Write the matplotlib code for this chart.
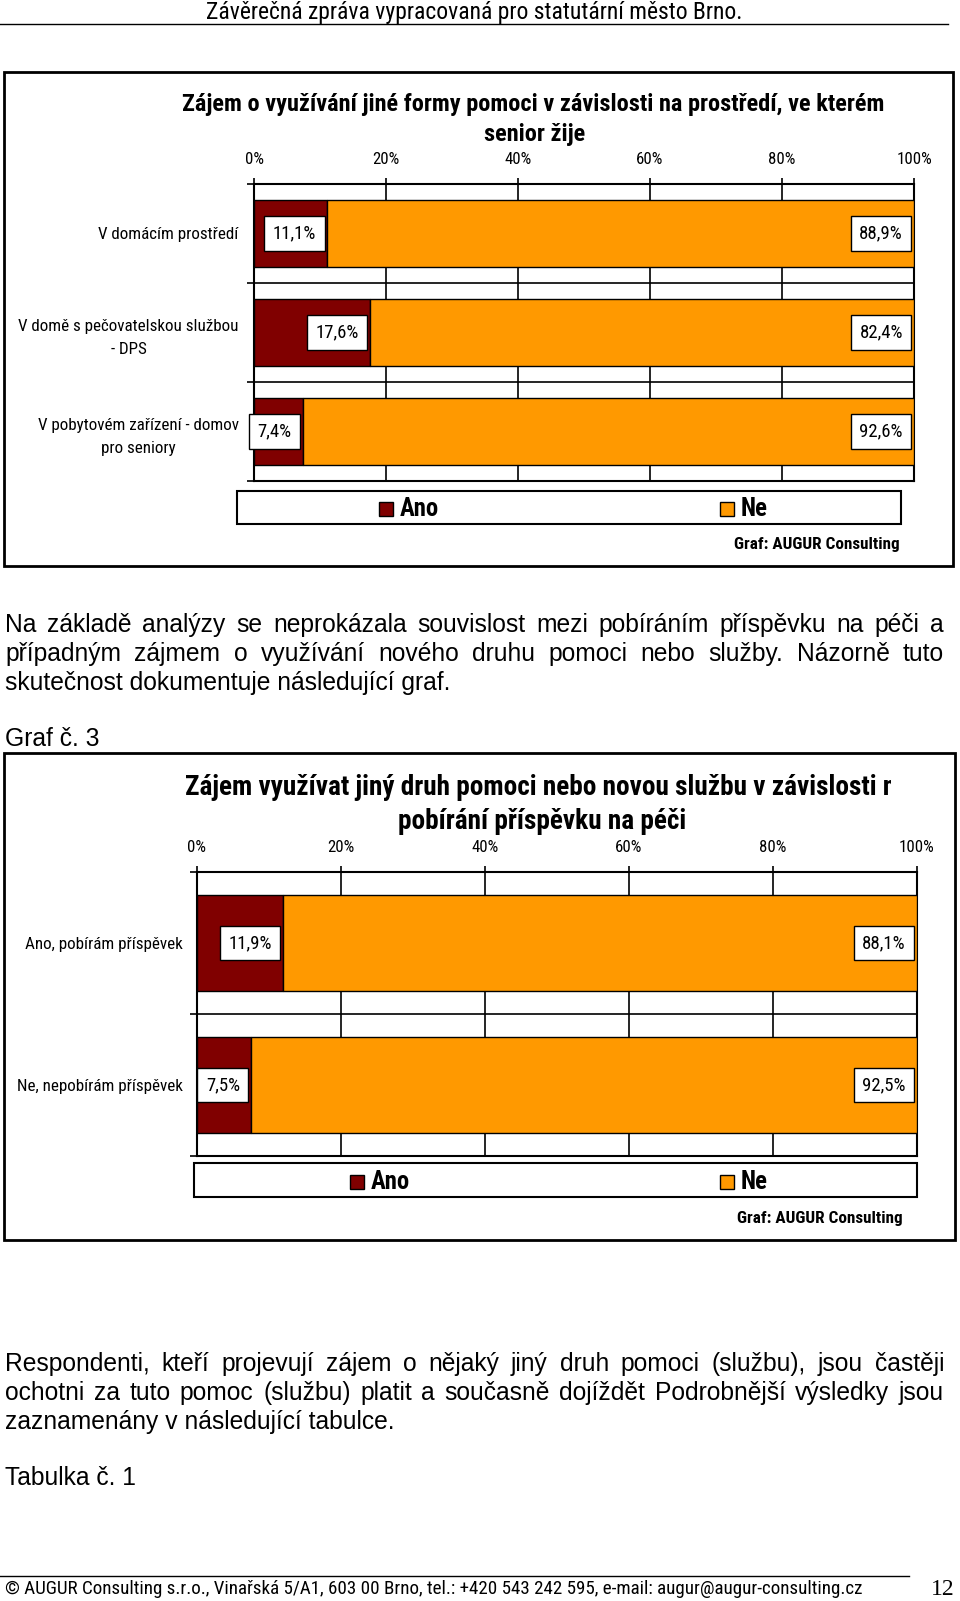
"""
Report page 12 - two stacked percentage bar charts (Ano / Ne)
"""
import matplotlib
matplotlib.use('Agg')
import matplotlib.pyplot as plt
from matplotlib import font_manager
from matplotlib.patches import Rectangle
from matplotlib.transforms import Bbox

# --- data -------------------------------------------------------------
series_names = ['Ano', 'Ne']
series_colors = ['#800000', '#FF9900']

cats1 = ['V domácím prostředí',
         'V domě s pečovatelskou službou\n- DPS',
         'V pobytovém zařízení - domov\npro seniory']
ano1 = [11.1, 17.6, 7.4]
ne1 = [88.9, 82.4, 92.6]
title1 = ['Zájem o využívání jiné formy pomoci v závislosti na prostředí, ve kterém',
          'senior žije']

cats2 = ['Ano, pobírám příspěvek', 'Ne, nepobírám příspěvek']
ano2 = [11.9, 7.5]
ne2 = [88.1, 92.5]
title2 = ['Zájem využívat jiný druh pomoci nebo novou službu v závislosti na',
          'pobírání příspěvku na péči']

xticks = [0, 20, 40, 60, 80, 100]
xticklabels = ['0%', '20%', '40%', '60%', '80%', '100%']

header = 'Závěrečná zpráva vypracovaná pro statutární město Brno.'
para1 = ['Na základě analýzy se neprokázala souvislost mezi pobíráním příspěvku na péči a',
         'případným zájmem o využívání nového druhu pomoci nebo služby. Názorně tuto',
         'skutečnost dokumentuje následující graf.']
para2 = ['Respondenti, kteří projevují zájem o nějaký jiný druh pomoci (službu), jsou častěji',
         'ochotni za tuto pomoc (službu) platit a současně dojíždět Podrobnější výsledky jsou',
         'zaznamenány v následující tabulce.']
footer = ('© AUGUR Consulting s.r.o., Vinařská 5/A1, 603 00 Brno, tel.: +420 543 242 595, '
          'e-mail: augur@augur-consulting.cz')
page_no = '12'
source = 'Graf: AUGUR Consulting'

# --- fonts ------------------------------------------------------------
names = {f.name for f in font_manager.fontManager.ttflist}
NARROW = 'Liberation Sans'
for cand in ['Liberation Sans Narrow', 'Arial Narrow', 'Roboto Condensed', 'DejaVu Sans Condensed']:
    if cand in names:
        NARROW = cand
        break
BODY = 'Liberation Sans'
SERIF = 'Liberation Serif'

W, H = 960, 1601
fig = plt.figure(figsize=(W / 100, H / 100), dpi=100)
renderer = fig.canvas.get_renderer()


def fx(x):
    return x / W


def fy(y):
    return 1 - y / H


def fit(s, target, family=NARROW, weight='normal'):
    # font size that gives text s a width of target pixels
    t = fig.text(0, 0, s, fontsize=10, family=family, weight=weight)
    w = t.get_window_extent(renderer).width
    t.remove()
    return 10 * target / w


S_CAT = fit('V domácím prostředí', 140)
S_TICK = fit('100%', 35)
S_LBL = fit('88,9%', 43)
S_TITLE1 = fit(title1[0], 702, weight='bold')
S_TITLE2 = fit(title2[1], 289, weight='bold')
S_LEG = fit('Ano', 39, weight='bold')
S_SRC = fit(source, 165, weight='bold')
S_HEAD = fit(header, 534)
S_FOOT = fit(footer, 854)
S_BODY = fit(para1[2], 448, family=BODY)


def frame(x0, y0, x1, y1, lw=2):
    fig.patches.append(Rectangle((fx(x0), fy(y1)), fx(x1) - fx(x0), fy(y0) - fy(y1),
                                 transform=fig.transFigure, fill=False,
                                 edgecolor='black', lw=lw))


def bar_chart(box, cats, ano, ne, label_pad):
    x0, y0, x1, y1 = box
    ax = fig.add_axes([fx(x0), fy(y1), fx(x1) - fx(x0), fy(y0) - fy(y1)])
    n = len(cats)
    pos = list(range(n))
    ax.barh(pos, ano, height=0.67, color=series_colors[0], edgecolor='black', lw=1, zorder=3)
    ax.barh(pos, ne, left=ano, height=0.67, color=series_colors[1], edgecolor='black',
            lw=1, zorder=3)
    ax.set_xlim(0, 100)
    ax.set_ylim(n - 0.5, -0.5)

    ax.xaxis.tick_top()
    ax.set_xticks(xticks)
    ax.set_xticklabels(xticklabels, family=NARROW, fontsize=S_TICK)
    ax.tick_params(axis='x', direction='out', length=4, width=1.2, pad=8.5)

    ax.set_yticks([i - 0.5 for i in range(n + 1)])
    ax.set_yticklabels([])
    ax.set_yticks(pos, minor=True)
    ax.set_yticklabels(cats, minor=True, family=NARROW, fontsize=S_CAT)
    for lbl in ax.get_yticklabels(minor=True):
        lbl.set_multialignment('center')
        lbl.set_linespacing(1.7)
    ax.tick_params(axis='y', which='major', direction='out', length=5, width=1.2)
    ax.tick_params(axis='y', which='minor', length=0, pad=label_pad)

    ax.grid(axis='x', color='black', lw=1.2, zorder=1)
    ax.grid(axis='y', which='major', color='black', lw=1.2, zorder=1)
    for s in ax.spines.values():
        s.set_linewidth(1.5)

    box_style = dict(boxstyle='square,pad=0.45', fc='white', ec='black', lw=1)
    for i in pos:
        for end, v in [(ano[i], ano[i]), (ano[i] + ne[i], ne[i])]:
            ax.annotate(f'{v:.1f}'.replace('.', ',') + '%', xy=(end, i),
                        xytext=(-8, 0), textcoords='offset points',
                        ha='right', va='center', family=NARROW, fontsize=S_LBL,
                        bbox=box_style, zorder=5)
    return ax


def legend_box(x0, y0, x1, y1, entries_x, text_y):
    frame(x0, y0, x1, y1, lw=1.5)
    for name, color, sx in zip(series_names, series_colors, entries_x):
        fig.patches.append(Rectangle((fx(sx), fy(text_y + 7)), 14 / W, 14 / H,
                                     transform=fig.transFigure, facecolor=color,
                                     edgecolor='black', lw=1))
        fig.text(fx(sx + 21), fy(text_y), name, family=NARROW, weight='bold',
                 fontsize=S_LEG, va='center', ha='left')


def justified(lines, ys, x0, x1, size):
    for i, (line, y) in enumerate(zip(lines, ys)):
        if i == len(lines) - 1:
            fig.text(fx(x0), fy(y), line, family=BODY, fontsize=size, va='center')
            continue
        words = line.split(' ')
        texts = [fig.text(0, fy(y), w, family=BODY, fontsize=size, va='center')
                 for w in words]
        widths = [t.get_window_extent(renderer).width for t in texts]
        gap = (x1 - x0 - sum(widths)) / (len(words) - 1)
        x = x0
        for t, w in zip(texts, widths):
            t.set_x(fx(x))
            x += w + gap


# --- header -----------------------------------------------------------
fig.text(fx(474), fy(13), header, family=NARROW, fontsize=S_HEAD, ha='center', va='center')
fig.add_artist(plt.Line2D([0, fx(948)], [fy(24), fy(24)], color='black', lw=1,
                          transform=fig.transFigure))

# --- chart 1 ----------------------------------------------------------
frame(4, 72, 953, 566)
fig.text(fx(533), fy(104), title1[0], family=NARROW, weight='bold', fontsize=S_TITLE1,
         ha='center', va='center')
fig.text(fx(535), fy(134), title1[1], family=NARROW, weight='bold', fontsize=S_TITLE1,
         ha='center', va='center')
bar_chart((254, 184, 914, 481), cats1, ano1, ne1, label_pad=11)
legend_box(237, 491, 901, 524, [379, 720], 509)
fig.text(fx(900), fy(544), source, family=NARROW, weight='bold', fontsize=S_SRC,
         ha='right', va='center')

# --- text -------------------------------------------------------------
justified(para1, [625, 654, 683], 5, 944, S_BODY)
fig.text(fx(5), fy(739), 'Graf č. 3', family=BODY, fontsize=S_BODY, va='center')

# --- chart 2 ----------------------------------------------------------
frame(4, 753, 955, 1240)
t = fig.text(fx(185), fy(787), title2[0], family=NARROW, weight='bold', fontsize=S_TITLE2,
             ha='left', va='center')
t.set_clip_box(Bbox.from_extents(0, 0, 891, H))
fig.text(fx(542), fy(821), title2[1], family=NARROW, weight='bold', fontsize=S_TITLE2,
         ha='center', va='center')
bar_chart((197, 872, 917, 1156), cats2, ano2, ne2, label_pad=10)
legend_box(194, 1163, 917, 1197, [350, 720], 1182)
fig.text(fx(903), fy(1218), source, family=NARROW, weight='bold', fontsize=S_SRC,
         ha='right', va='center')

# --- text -------------------------------------------------------------
justified(para2, [1364, 1393, 1422], 5, 944, S_BODY)
fig.text(fx(5), fy(1478), 'Tabulka č. 1', family=BODY, fontsize=S_BODY, va='center')

# --- footer -----------------------------------------------------------
fig.add_artist(plt.Line2D([0, fx(909)], [fy(1576), fy(1576)], color='black', lw=1,
                          transform=fig.transFigure))
fig.text(fx(5), fy(1589), footer, family=NARROW, fontsize=S_FOOT, va='center')
fig.text(fx(931), fy(1589), page_no, family=SERIF, fontsize=17, va='center')

fig.savefig('out.png', dpi=100)
